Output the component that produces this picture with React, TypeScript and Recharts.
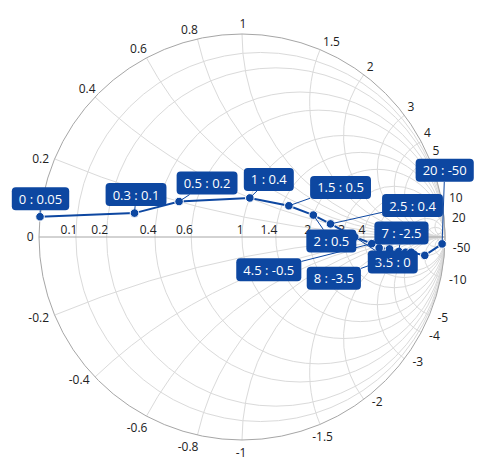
import React from 'react';
import { ScatterChart, Scatter, XAxis, YAxis, ReferenceLine, ReferenceDot } from 'recharts';

// ---- data (impedance points: resistance : reactance) ----
const resistance = [0, 0.3, 0.5, 1, 1.5, 2, 2.5, 3.5, 4.5, 5, 6, 7, 8, 9, 10, 20];
const reactance = [0.05, 0.1, 0.2, 0.4, 0.5, 0.5, 0.4, 0, -0.5, -1, -1.5, -2.5, -3.5, -4.5, -10, -50];
const labelShown = [true, true, true, true, true, true, true, true, true, false, false, true, true, false, false, true];

// ---- axis values ----
const resistanceGridValues = [0.1, 0.2, 0.4, 0.6, 1, 1.4, 2, 3, 4, 5, 10, 20, 50];
const resistanceTickLabels = [0.1, 0.2, 0.4, 0.6, 1, 1.4, 2, 3, 4];
const reactanceGridValues = [0.2, 0.4, 0.6, 0.8, 1, 1.5, 2, 3, 4, 5, 10, 20, 50];
const reactanceTickLabels = [0, 0.2, 0.4, 0.6, 0.8, 1, 1.5, 2, 3, 4, 5, 10, 20, -50, -10, -5, -4, -3, -2, -1.5, -1, -0.8, -0.6, -0.4, -0.2];

// ---- layout of data labels (box centre relative to marker, px) ----
const labelOffsets: ([number, number] | null)[] = [
  [0.5, -18], [1.5, -18.5], [28, -18.5], [19, -18.5], [51.7, -18.3], [18, 26], [82, -18.4], [38, 25],
  [-103, 26], null, null, [2.7, -18.4], [-72, 26], null, null, [2.6, -73.6],
];

const W = 473;
const H = 455;
const MARGIN = { top: 26, right: 36, bottom: 23, left: 31 };
const BLUE = '#0D47A1';
const GRID = '#DADADA';
const OUTER = '#A6A6A6';
const TEXT = '#212121';
const FONT = '"Open Sans", "Segoe UI", sans-serif';

const toGamma = (r: number, x: number) => {
  const d = (r + 1) * (r + 1) + x * x;
  return { gx: (r * r + x * x - 1) / d, gy: (2 * x) / d };
};

const seriesData = resistance.map((r, i) => ({ ...toGamma(r, reactance[i]), r, x: reactance[i], i }));

const charW: Record<string, number> = { '.': 0.266, ':': 0.266, ' ': 0.26, '-': 0.322 };
const textWidth = (s: string, size: number) =>
  s.split('').reduce((a, c) => a + (charW[c] !== undefined ? charW[c] : 0.572) * size, 0);

const OuterCircle = (p: any) => {
  const { x1, y1, x2 } = p;
  const cx = (x1 + x2) / 2;
  const r = Math.abs(x2 - x1) / 2;
  return (
    <g>
      <circle cx={cx} cy={y1} r={r} fill="none" stroke={OUTER} strokeWidth={1} />
      <line x1={x1} y1={y1} x2={x2} y2={y1} stroke={OUTER} strokeWidth={1} />
    </g>
  );
};

const ResistanceCircle = (p: any) => {
  const { x1, y1, x2 } = p;
  const cx = (x1 + x2) / 2;
  const r = Math.abs(x2 - x1) / 2;
  return <circle cx={cx} cy={y1} r={r} fill="none" stroke={GRID} strokeWidth={1} />;
};

const makeReactanceArc = (xv: number) => (p: any) => {
  const { x1, y1, x2, y2 } = p;
  const chordPx = Math.hypot(x2 - x1, y2 - y1);
  const chordData = 2 / Math.sqrt(xv * xv + 1);
  const rad = chordPx / chordData / Math.abs(xv);
  const sweep = xv > 0 ? 1 : 0;
  return <path d={`M${x1},${y1} A${rad},${rad} 0 0 ${sweep} ${x2},${y2}`} fill="none" stroke={GRID} strokeWidth={1} />;
};

const reactancePlacement = (theta: number) => {
  if (theta >= 150 || theta <= -130) return { anchor: 'end', dx: -5.5, dy: theta < 0 ? 2.5 : -0.5 };
  if (theta > 95) return { anchor: 'end', dx: 0.5, dy: -9 };
  if (theta >= 85) return { anchor: 'middle', dx: 1, dy: -11 };
  if (theta > 15) return { anchor: 'start', dx: 3, dy: -8.5 };
  if (theta >= -60) return { anchor: 'start', dx: 8, dy: theta < -1 ? 2.5 : 1 };
  if (theta >= -95) return { anchor: 'middle', dx: theta < -75 ? -1 : 2.5, dy: 12 };
  return { anchor: 'end', dx: 1, dy: 11.7 };
};

const makeReactanceLabel = (xv: number) => (p: any) => {
  const { cx, cy } = p;
  const g = toGamma(0, xv);
  const theta = (Math.atan2(g.gy, g.gx) * 180) / Math.PI;
  const pl = reactancePlacement(theta);
  return (
    <text x={cx + pl.dx} y={cy + pl.dy} textAnchor={pl.anchor as any} dominantBaseline="central" fontSize={12} fontFamily={FONT} fill={TEXT}>
      {String(xv)}
    </text>
  );
};

const makeResistanceLabel = (rv: number) => (p: any) => {
  const { cx, cy } = p;
  return (
    <text x={cx + 1.5} y={cy - 3} textAnchor="end" fontSize={12} fontFamily={FONT} fill={TEXT}>
      {String(rv)}
    </text>
  );
};

const Marker = (p: any) => {
  const { cx, cy } = p;
  return <circle cx={cx} cy={cy} r={4.3} fill={BLUE} stroke="#ffffff" strokeWidth={1} />;
};

const DataLabel = (p: any) => {
  const { cx, cy, payload } = p;
  const i = payload.i;
  const off = labelOffsets[i];
  if (!labelShown[i] || !off) return <g />;
  const text = `${payload.r} : ${payload.x}`;
  const w = textWidth(text, 13) + 14;
  const h = 23;
  const bx = cx + off[0];
  const by = cy + off[1];
  const left = bx - w / 2, right = bx + w / 2, top = by - h / 2, bottom = by + h / 2;
  const dx = bx - cx, dy = by - cy;
  const tx = dx > 0 ? (left - cx) / dx : dx < 0 ? (right - cx) / dx : -Infinity;
  const ty = dy > 0 ? (top - cy) / dy : dy < 0 ? (bottom - cy) / dy : -Infinity;
  const t = Math.max(tx, ty);
  return (
    <g>
      {t > 0 && t < 1 ? (
        <line x1={cx} y1={cy} x2={cx + dx * t} y2={cy + dy * t} stroke={BLUE} strokeWidth={1} />
      ) : null}
      <rect x={left} y={top} width={w} height={h} rx={4} ry={4} fill={BLUE} />
      <text x={bx} y={by} textAnchor="middle" dominantBaseline="central" fontSize={13} fontFamily={FONT} fill="#ffffff">
        {text}
      </text>
    </g>
  );
};

export default function App() {
  return (
    <ScatterChart width={W} height={H} margin={MARGIN}>
      <XAxis type="number" dataKey="gx" domain={[-1, 1]} hide />
      <YAxis type="number" dataKey="gy" domain={[-1, 1]} hide />
      {resistanceGridValues.map((rv) => (
        <ReferenceLine
          key={`rg${rv}`}
          segment={[{ x: toGamma(rv, 0).gx, y: 0 }, { x: 1, y: 0 }]}
          ifOverflow="visible"
          shape={ResistanceCircle}
          {...({ zIndex: 100 } as any)}
        />
      ))}
      {reactanceGridValues.flatMap((v) => [v, -v]).map((xv) => {
        const g = toGamma(0, xv);
        return (
          <ReferenceLine
            key={`xg${xv}`}
            segment={[{ x: 1, y: 0 }, { x: g.gx, y: g.gy }]}
            ifOverflow="visible"
            shape={makeReactanceArc(xv)}
            {...({ zIndex: 100 } as any)}
          />
        );
      })}
      <ReferenceLine
        segment={[{ x: -1, y: 0 }, { x: 1, y: 0 }]}
        ifOverflow="visible"
        shape={OuterCircle}
        {...({ zIndex: 110 } as any)}
      />
      {resistanceTickLabels.map((rv) => (
        <ReferenceDot
          key={`rl${rv}`}
          x={toGamma(rv, 0).gx}
          y={0}
          r={1}
          ifOverflow="visible"
          shape={makeResistanceLabel(rv)}
          {...({ zIndex: 200 } as any)}
        />
      ))}
      {reactanceTickLabels.map((xv) => {
        const g = toGamma(0, xv);
        return (
          <ReferenceDot
            key={`xl${xv}`}
            x={g.gx}
            y={g.gy}
            r={1}
            ifOverflow="visible"
            shape={makeReactanceLabel(xv)}
            {...({ zIndex: 200 } as any)}
          />
        );
      })}
      <Scatter
        data={seriesData}
        fill={BLUE}
        line={{ stroke: BLUE, strokeWidth: 2 }}
        lineType="joint"
        shape={Marker}
        isAnimationActive={false}
        {...({ zIndex: 600 } as any)}
      />
      <Scatter
        data={seriesData}
        fill={BLUE}
        shape={DataLabel}
        isAnimationActive={false}
        {...({ zIndex: 700 } as any)}
      />
    </ScatterChart>
  );
}
